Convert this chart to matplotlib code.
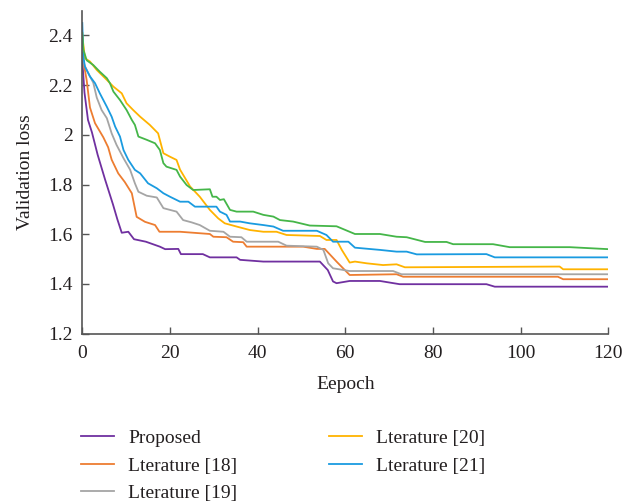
import matplotlib
matplotlib.use("Agg")
import matplotlib.pyplot as plt

# ---- data (epoch, validation loss) ----
prop_x = [0, 0.5, 1.3, 2.2, 3.5, 5.2, 7.0, 8.0, 9.0, 10.5, 11.8, 14.5, 17.7, 18.9, 21.9, 22.5, 27.5, 29.1, 35.2, 36.0, 41.3, 54.2, 56.0, 57.2, 58.0, 61.0, 67.9, 72.4, 92.2, 94.1, 120]
prop_y = [2.30, 2.17, 2.06, 2.01, 1.92, 1.82, 1.72, 1.66, 1.606, 1.61, 1.58, 1.57, 1.55, 1.54, 1.541, 1.52, 1.52, 1.507, 1.507, 1.497, 1.49, 1.49, 1.456, 1.41, 1.403, 1.412, 1.412, 1.399, 1.399, 1.389, 1.389]

l18_x = [0, 0.4, 1.0, 1.75, 2.9, 4.8, 5.9, 6.7, 8.2, 9.7, 11.3, 12.4, 14.3, 16.6, 17.6, 22.3, 29.1, 29.9, 32.9, 34.4, 36.7, 37.5, 50.4, 53.5, 55.3, 58.0, 61.0, 71.7, 73.2, 108.5, 109.7, 120]
l18_y = [2.33, 2.28, 2.22, 2.11, 2.047, 1.99, 1.95, 1.90, 1.845, 1.81, 1.765, 1.67, 1.65, 1.637, 1.61, 1.61, 1.601, 1.59, 1.588, 1.57, 1.568, 1.55, 1.55, 1.541, 1.541, 1.49, 1.436, 1.439, 1.429, 1.429, 1.419, 1.419]

l19_x = [0, 0.5, 1.75, 2.5, 3.3, 4.4, 5.6, 6.7, 7.8, 9.4, 10.9, 12.0, 12.8, 14.7, 17.0, 18.5, 21.5, 23.0, 24.9, 26.8, 29.1, 32.2, 33.7, 36.3, 37.5, 44.7, 46.6, 53.5, 55.0, 56.1, 57.2, 61.0, 70.9, 72.8, 120]
l19_y = [2.32, 2.28, 2.235, 2.21, 2.15, 2.10, 2.067, 2.006, 1.96, 1.906, 1.86, 1.805, 1.771, 1.755, 1.748, 1.705, 1.691, 1.657, 1.648, 1.637, 1.614, 1.61, 1.59, 1.588, 1.57, 1.57, 1.554, 1.55, 1.537, 1.483, 1.463, 1.452, 1.452, 1.439, 1.439]

l20_x = [0, 0.6, 1.75, 3.3, 5.6, 7.1, 9.0, 10.1, 11.6, 13.2, 15.4, 17.3, 18.5, 20.0, 21.5, 22.3, 24.6, 26.8, 29.1, 31.0, 32.5, 35.2, 38.2, 41.3, 44.3, 46.6, 54.2, 55.7, 58.0, 59.2, 61.0, 62.2, 64.9, 68.6, 71.7, 73.6, 108.9, 109.7, 120]
l20_y = [2.40, 2.308, 2.295, 2.261, 2.221, 2.194, 2.167, 2.127, 2.10, 2.073, 2.04, 2.006, 1.926, 1.912, 1.899, 1.86, 1.792, 1.751, 1.698, 1.664, 1.644, 1.631, 1.617, 1.61, 1.61, 1.597, 1.593, 1.577, 1.577, 1.537, 1.486, 1.49, 1.483, 1.476, 1.479, 1.467, 1.47, 1.459, 1.459]

l21_x = [0, 0.25, 0.6, 1.75, 2.9, 4.0, 5.6, 6.7, 7.5, 8.6, 9.4, 10.5, 12.0, 13.2, 15.0, 17.0, 18.5, 20.0, 22.3, 24.2, 25.7, 30.6, 31.4, 32.9, 33.7, 36.0, 38.2, 41.3, 43.6, 45.8, 53.5, 55.7, 57.2, 60.7, 62.2, 67.9, 71.7, 74.0, 76.3, 92.2, 94.1, 120]
l21_y = [2.45, 2.315, 2.274, 2.235, 2.208, 2.167, 2.113, 2.073, 2.033, 1.993, 1.939, 1.899, 1.859, 1.845, 1.805, 1.785, 1.765, 1.751, 1.731, 1.731, 1.711, 1.711, 1.691, 1.678, 1.651, 1.651, 1.644, 1.637, 1.631, 1.614, 1.614, 1.597, 1.57, 1.57, 1.546, 1.537, 1.53, 1.53, 1.519, 1.52, 1.507, 1.507]

green_x = [0, 0.25, 1.0, 2.5, 4.0, 5.6, 6.3, 7.1, 8.6, 10.1, 11.3, 12.0, 12.8, 14.7, 16.6, 17.7, 18.5, 19.2, 21.5, 22.3, 23.8, 25.3, 29.1, 29.7, 30.6, 31.4, 32.3, 33.7, 35.2, 39.0, 41.3, 43.6, 45.1, 48.1, 51.9, 58.0, 62.2, 67.9, 71.7, 74.0, 78.2, 83.1, 84.6, 93.7, 97.5, 111.2, 120]
green_y = [2.41, 2.342, 2.30, 2.281, 2.254, 2.228, 2.208, 2.174, 2.14, 2.10, 2.06, 2.04, 1.993, 1.98, 1.966, 1.939, 1.886, 1.872, 1.859, 1.832, 1.798, 1.778, 1.781, 1.751, 1.751, 1.738, 1.741, 1.698, 1.691, 1.691, 1.678, 1.671, 1.657, 1.651, 1.635, 1.632, 1.601, 1.601, 1.59, 1.588, 1.569, 1.569, 1.56, 1.56, 1.548, 1.548, 1.54]

x_ticks = [0, 20, 40, 60, 80, 100, 120]
y_ticks = [1.2, 1.4, 1.6, 1.8, 2.0, 2.2, 2.4]
y_tick_labels = ["1.2", "1.4", "1.6", "1.8", "2", "2.2", "2.4"]

plt.rcParams['font.family'] = ['Liberation Serif', 'DejaVu Serif']
txt = '#231F20'

fig = plt.figure(figsize=(6.33, 5.04), dpi=100)
ax = fig.add_axes([0.130, 0.338, 0.831, 0.641])

lw = 1.3
ax.plot(prop_x, prop_y, color='#7030A0', lw=lw, label='Proposed')
ax.plot(l18_x, l18_y, color='#ED7D31', lw=lw, label='Lterature [18]')
ax.plot(l19_x, l19_y, color='#A5A5A5', lw=lw, label='Lterature [19]')
ax.plot(l20_x, l20_y, color='#FFB300', lw=lw, label='Lterature [20]')
ax.plot(l21_x, l21_y, color='#1A9BE0', lw=lw, label='Lterature [21]')
ax.plot(green_x, green_y, color='#45B649', lw=lw)

ax.set_xlim(0, 120)
ax.set_ylim(1.2, 2.5)
ax.set_xticks(x_ticks)
ax.set_yticks(y_ticks)
ax.set_yticklabels(y_tick_labels)
for s in ['top', 'right']:
    ax.spines[s].set_visible(False)
for s in ['left', 'bottom']:
    ax.spines[s].set_color('#555555')
    ax.spines[s].set_linewidth(1.2)
ax.tick_params(direction='in', length=5, width=1.0, color='#555555',
               labelsize=14, labelcolor=txt)
ax.tick_params(axis='y', pad=7)
ax.tick_params(axis='x', pad=8)
ax.set_xlabel('Eepoch', fontsize=14, color=txt, labelpad=10)
ax.set_ylabel('Validation loss', fontsize=14, color=txt, labelpad=10)

h, l = ax.get_legend_handles_labels()
leg = fig.legend(h, l, ncol=2, loc='upper left', bbox_to_anchor=(0.1156, 0.163),
                 frameon=False, fontsize=14, handlelength=1.7, handletextpad=0.72,
                 columnspacing=4.7, labelspacing=0.51, borderaxespad=0)
for t in leg.get_texts():
    t.set_color(txt)

fig.savefig('out.png', dpi=100)
